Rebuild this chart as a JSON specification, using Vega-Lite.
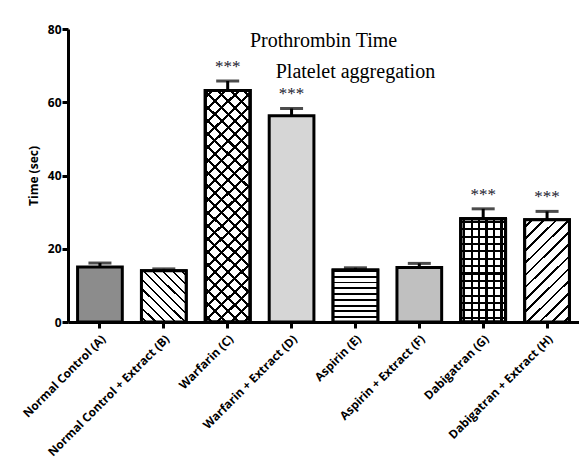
{
  "$schema": "https://vega.github.io/schema/vega-lite/v6.json",
  "width": 511,
  "height": 293,
  "autosize": {"type": "none"},
  "padding": {"left": 68, "top": 29, "right": 0, "bottom": 137},
  "background": "white",
  "config": {"view": {"stroke": null}},
  "data": {
    "values": [
      {"group": "Normal Control (A)", "time": 15.0, "hi": 16.1, "sig": ""},
      {"group": "Normal Control + Extract (B)", "time": 14.0, "hi": 14.5, "sig": ""},
      {"group": "Warfarin (C)", "time": 63.2, "hi": 65.8, "sig": "***"},
      {"group": "Warfarin + Extract (D)", "time": 56.3, "hi": 58.3, "sig": "***"},
      {"group": "Aspirin (E)", "time": 14.2, "hi": 14.8, "sig": ""},
      {"group": "Aspirin + Extract (F)", "time": 14.9, "hi": 16.0, "sig": ""},
      {"group": "Dabigatran (G)", "time": 28.2, "hi": 30.9, "sig": "***"},
      {"group": "Dabigatran + Extract (H)", "time": 27.9, "hi": 30.2, "sig": "***"}
    ]
  },
  "encoding": {
    "x": {
      "field": "group",
      "type": "nominal",
      "sort": null,
      "scale": {"paddingInner": 0.3, "paddingOuter": 0.15},
      "axis": {
        "title": null,
        "labelAngle": -45,
        "labelAlign": "right",
        "labelBaseline": "top",
        "labelFont": "Open Sans",
        "labelFontWeight": "bold",
        "labelFontSize": 11.8,
        "labelColor": "black",
        "labelPadding": 5,
        "domainColor": "black",
        "domainWidth": 3,
        "tickColor": "black",
        "tickWidth": 3,
        "tickSize": 6
      }
    },
    "y": {
      "field": "time",
      "type": "quantitative",
      "scale": {"domain": [0, 80], "nice": false},
      "axis": {
        "title": "Time (sec)",
        "titleFont": "Open Sans",
        "titleFontWeight": "bold",
        "titleFontSize": 12,
        "titleColor": "black",
        "titlePadding": 7,
        "values": [0, 20, 40, 60, 80],
        "grid": false,
        "labelFont": "Open Sans",
        "labelFontWeight": "bold",
        "labelFontSize": 12,
        "labelColor": "black",
        "labelPadding": 1,
        "domainColor": "black",
        "domainWidth": 3,
        "tickColor": "black",
        "tickWidth": 3,
        "tickSize": 6
      }
    }
  },
  "layer": [
    {
      "mark": {"type": "bar", "stroke": "black", "strokeWidth": 3},
      "encoding": {
        "fill": {
          "field": "group",
          "type": "nominal",
          "sort": null,
          "legend": null,
          "scale": {"range": ["#8c8c8c", "#e0e0e0", "#a8a8a8", "#d6d6d6", "#a0a0a0", "#c0c0c0", "#7c7c7c", "#e0e0e0"]}
        }
      }
    },
    {
      "transform": [{"filter": "datum.group === 'Aspirin (E)'"}],
      "mark": {
        "type": "bar",
        "stroke": "black",
        "strokeWidth": 3,
        "fill": {
          "gradient": "linear", "x1": 0, "y1": 0, "x2": 0, "y2": 1,
          "stops": [
            {"offset": 0, "color": "black"}, {"offset": 0.035, "color": "black"}, {"offset": 0.035, "color": "white"}, {"offset": 0.111, "color": "white"},
            {"offset": 0.111, "color": "black"}, {"offset": 0.146, "color": "black"}, {"offset": 0.146, "color": "white"}, {"offset": 0.222, "color": "white"},
            {"offset": 0.222, "color": "black"}, {"offset": 0.257, "color": "black"}, {"offset": 0.257, "color": "white"}, {"offset": 0.333, "color": "white"},
            {"offset": 0.333, "color": "black"}, {"offset": 0.368, "color": "black"}, {"offset": 0.368, "color": "white"}, {"offset": 0.444, "color": "white"},
            {"offset": 0.444, "color": "black"}, {"offset": 0.479, "color": "black"}, {"offset": 0.479, "color": "white"}, {"offset": 0.556, "color": "white"},
            {"offset": 0.556, "color": "black"}, {"offset": 0.591, "color": "black"}, {"offset": 0.591, "color": "white"}, {"offset": 0.667, "color": "white"},
            {"offset": 0.667, "color": "black"}, {"offset": 0.702, "color": "black"}, {"offset": 0.702, "color": "white"}, {"offset": 0.778, "color": "white"},
            {"offset": 0.778, "color": "black"}, {"offset": 0.813, "color": "black"}, {"offset": 0.813, "color": "white"}, {"offset": 0.889, "color": "white"},
            {"offset": 0.889, "color": "black"}, {"offset": 0.924, "color": "black"}, {"offset": 0.924, "color": "white"}, {"offset": 1, "color": "white"}
          ]
        }
      }
    },
    {
      "transform": [{"filter": "datum.group === 'Normal Control + Extract (B)'"}],
      "mark": {
        "type": "bar",
        "stroke": "black",
        "strokeWidth": 3,
        "fill": {
          "gradient": "linear", "x1": 0, "y1": 1, "x2": 0.92, "y2": -0.07,
          "stops": [
            {"offset": 0, "color": "white"}, {"offset": 0.04, "color": "white"}, {"offset": 0.04, "color": "black"}, {"offset": 0.062, "color": "black"}, {"offset": 0.062, "color": "white"},
            {"offset": 0.14, "color": "white"}, {"offset": 0.14, "color": "black"}, {"offset": 0.162, "color": "black"}, {"offset": 0.162, "color": "white"},
            {"offset": 0.24, "color": "white"}, {"offset": 0.24, "color": "black"}, {"offset": 0.262, "color": "black"}, {"offset": 0.262, "color": "white"},
            {"offset": 0.34, "color": "white"}, {"offset": 0.34, "color": "black"}, {"offset": 0.362, "color": "black"}, {"offset": 0.362, "color": "white"},
            {"offset": 0.44, "color": "white"}, {"offset": 0.44, "color": "black"}, {"offset": 0.462, "color": "black"}, {"offset": 0.462, "color": "white"},
            {"offset": 0.54, "color": "white"}, {"offset": 0.54, "color": "black"}, {"offset": 0.562, "color": "black"}, {"offset": 0.562, "color": "white"},
            {"offset": 0.64, "color": "white"}, {"offset": 0.64, "color": "black"}, {"offset": 0.662, "color": "black"}, {"offset": 0.662, "color": "white"},
            {"offset": 0.74, "color": "white"}, {"offset": 0.74, "color": "black"}, {"offset": 0.762, "color": "black"}, {"offset": 0.762, "color": "white"},
            {"offset": 0.84, "color": "white"}, {"offset": 0.84, "color": "black"}, {"offset": 0.862, "color": "black"}, {"offset": 0.862, "color": "white"},
            {"offset": 0.94, "color": "white"}, {"offset": 0.94, "color": "black"}, {"offset": 0.962, "color": "black"}, {"offset": 0.962, "color": "white"},
            {"offset": 1, "color": "white"}
          ]
        }
      }
    },
    {
      "transform": [{"filter": "datum.group === 'Dabigatran + Extract (H)'"}],
      "mark": {
        "type": "bar",
        "stroke": "black",
        "strokeWidth": 3,
        "fill": {
          "gradient": "linear", "x1": 0, "y1": 0, "x2": 0.52, "y2": 1.207,
          "stops": [
            {"offset": 0, "color": "white"}, {"offset": 0.04, "color": "white"}, {"offset": 0.04, "color": "black"}, {"offset": 0.058, "color": "black"}, {"offset": 0.058, "color": "white"},
            {"offset": 0.123, "color": "white"}, {"offset": 0.123, "color": "black"}, {"offset": 0.141, "color": "black"}, {"offset": 0.141, "color": "white"},
            {"offset": 0.206, "color": "white"}, {"offset": 0.206, "color": "black"}, {"offset": 0.224, "color": "black"}, {"offset": 0.224, "color": "white"},
            {"offset": 0.29, "color": "white"}, {"offset": 0.29, "color": "black"}, {"offset": 0.308, "color": "black"}, {"offset": 0.308, "color": "white"},
            {"offset": 0.373, "color": "white"}, {"offset": 0.373, "color": "black"}, {"offset": 0.391, "color": "black"}, {"offset": 0.391, "color": "white"},
            {"offset": 0.456, "color": "white"}, {"offset": 0.456, "color": "black"}, {"offset": 0.474, "color": "black"}, {"offset": 0.474, "color": "white"},
            {"offset": 0.54, "color": "white"}, {"offset": 0.54, "color": "black"}, {"offset": 0.558, "color": "black"}, {"offset": 0.558, "color": "white"},
            {"offset": 0.623, "color": "white"}, {"offset": 0.623, "color": "black"}, {"offset": 0.641, "color": "black"}, {"offset": 0.641, "color": "white"},
            {"offset": 0.706, "color": "white"}, {"offset": 0.706, "color": "black"}, {"offset": 0.724, "color": "black"}, {"offset": 0.724, "color": "white"},
            {"offset": 0.79, "color": "white"}, {"offset": 0.79, "color": "black"}, {"offset": 0.808, "color": "black"}, {"offset": 0.808, "color": "white"},
            {"offset": 0.873, "color": "white"}, {"offset": 0.873, "color": "black"}, {"offset": 0.891, "color": "black"}, {"offset": 0.891, "color": "white"},
            {"offset": 0.956, "color": "white"}, {"offset": 0.956, "color": "black"}, {"offset": 0.974, "color": "black"}, {"offset": 0.974, "color": "white"},
            {"offset": 1, "color": "white"}
          ]
        }
      }
    },
    {
      "transform": [{"filter": "datum.group === 'Warfarin (C)'"}],
      "mark": {
        "type": "bar",
        "stroke": "black",
        "strokeWidth": 3,
        "fill": {
          "gradient": "linear", "x1": 0, "y1": 1, "x2": 0.219, "y2": -0.149,
          "stops": [
            {"offset": 0, "color": "white"},
            {"offset": 0.020, "color": "white"}, {"offset": 0.020, "color": "black"}, {"offset": 0.031, "color": "black"}, {"offset": 0.031, "color": "white"},
            {"offset": 0.068, "color": "white"}, {"offset": 0.068, "color": "black"}, {"offset": 0.079, "color": "black"}, {"offset": 0.079, "color": "white"},
            {"offset": 0.115, "color": "white"}, {"offset": 0.115, "color": "black"}, {"offset": 0.126, "color": "black"}, {"offset": 0.126, "color": "white"},
            {"offset": 0.163, "color": "white"}, {"offset": 0.163, "color": "black"}, {"offset": 0.174, "color": "black"}, {"offset": 0.174, "color": "white"},
            {"offset": 0.210, "color": "white"}, {"offset": 0.210, "color": "black"}, {"offset": 0.221, "color": "black"}, {"offset": 0.221, "color": "white"},
            {"offset": 0.258, "color": "white"}, {"offset": 0.258, "color": "black"}, {"offset": 0.269, "color": "black"}, {"offset": 0.269, "color": "white"},
            {"offset": 0.306, "color": "white"}, {"offset": 0.306, "color": "black"}, {"offset": 0.317, "color": "black"}, {"offset": 0.317, "color": "white"},
            {"offset": 0.353, "color": "white"}, {"offset": 0.353, "color": "black"}, {"offset": 0.364, "color": "black"}, {"offset": 0.364, "color": "white"},
            {"offset": 0.401, "color": "white"}, {"offset": 0.401, "color": "black"}, {"offset": 0.412, "color": "black"}, {"offset": 0.412, "color": "white"},
            {"offset": 0.449, "color": "white"}, {"offset": 0.449, "color": "black"}, {"offset": 0.460, "color": "black"}, {"offset": 0.460, "color": "white"},
            {"offset": 0.496, "color": "white"}, {"offset": 0.496, "color": "black"}, {"offset": 0.507, "color": "black"}, {"offset": 0.507, "color": "white"},
            {"offset": 0.544, "color": "white"}, {"offset": 0.544, "color": "black"}, {"offset": 0.555, "color": "black"}, {"offset": 0.555, "color": "white"},
            {"offset": 0.591, "color": "white"}, {"offset": 0.591, "color": "black"}, {"offset": 0.602, "color": "black"}, {"offset": 0.602, "color": "white"},
            {"offset": 0.639, "color": "white"}, {"offset": 0.639, "color": "black"}, {"offset": 0.650, "color": "black"}, {"offset": 0.650, "color": "white"},
            {"offset": 0.687, "color": "white"}, {"offset": 0.687, "color": "black"}, {"offset": 0.698, "color": "black"}, {"offset": 0.698, "color": "white"},
            {"offset": 0.734, "color": "white"}, {"offset": 0.734, "color": "black"}, {"offset": 0.745, "color": "black"}, {"offset": 0.745, "color": "white"},
            {"offset": 0.782, "color": "white"}, {"offset": 0.782, "color": "black"}, {"offset": 0.793, "color": "black"}, {"offset": 0.793, "color": "white"},
            {"offset": 0.830, "color": "white"}, {"offset": 0.830, "color": "black"}, {"offset": 0.841, "color": "black"}, {"offset": 0.841, "color": "white"},
            {"offset": 0.877, "color": "white"}, {"offset": 0.877, "color": "black"}, {"offset": 0.888, "color": "black"}, {"offset": 0.888, "color": "white"},
            {"offset": 0.925, "color": "white"}, {"offset": 0.925, "color": "black"}, {"offset": 0.936, "color": "black"}, {"offset": 0.936, "color": "white"},
            {"offset": 0.972, "color": "white"}, {"offset": 0.972, "color": "black"}, {"offset": 0.983, "color": "black"}, {"offset": 0.983, "color": "white"},
            {"offset": 1, "color": "white"}
          ]
        }
      }
    },
    {
      "transform": [{"filter": "datum.group === 'Warfarin (C)'"}],
      "mark": {
        "type": "bar",
        "stroke": "black",
        "strokeWidth": 3,
        "fill": {
          "gradient": "linear", "x1": 0, "y1": 0, "x2": 0.218, "y2": 1.149,
          "stops": [
            {"offset": 0, "color": "rgba(0,0,0,0)"},
            {"offset": 0.020, "color": "rgba(0,0,0,0)"}, {"offset": 0.020, "color": "black"}, {"offset": 0.031, "color": "black"}, {"offset": 0.031, "color": "rgba(0,0,0,0)"},
            {"offset": 0.068, "color": "rgba(0,0,0,0)"}, {"offset": 0.068, "color": "black"}, {"offset": 0.079, "color": "black"}, {"offset": 0.079, "color": "rgba(0,0,0,0)"},
            {"offset": 0.115, "color": "rgba(0,0,0,0)"}, {"offset": 0.115, "color": "black"}, {"offset": 0.126, "color": "black"}, {"offset": 0.126, "color": "rgba(0,0,0,0)"},
            {"offset": 0.163, "color": "rgba(0,0,0,0)"}, {"offset": 0.163, "color": "black"}, {"offset": 0.174, "color": "black"}, {"offset": 0.174, "color": "rgba(0,0,0,0)"},
            {"offset": 0.210, "color": "rgba(0,0,0,0)"}, {"offset": 0.210, "color": "black"}, {"offset": 0.221, "color": "black"}, {"offset": 0.221, "color": "rgba(0,0,0,0)"},
            {"offset": 0.258, "color": "rgba(0,0,0,0)"}, {"offset": 0.258, "color": "black"}, {"offset": 0.269, "color": "black"}, {"offset": 0.269, "color": "rgba(0,0,0,0)"},
            {"offset": 0.306, "color": "rgba(0,0,0,0)"}, {"offset": 0.306, "color": "black"}, {"offset": 0.317, "color": "black"}, {"offset": 0.317, "color": "rgba(0,0,0,0)"},
            {"offset": 0.353, "color": "rgba(0,0,0,0)"}, {"offset": 0.353, "color": "black"}, {"offset": 0.364, "color": "black"}, {"offset": 0.364, "color": "rgba(0,0,0,0)"},
            {"offset": 0.401, "color": "rgba(0,0,0,0)"}, {"offset": 0.401, "color": "black"}, {"offset": 0.412, "color": "black"}, {"offset": 0.412, "color": "rgba(0,0,0,0)"},
            {"offset": 0.449, "color": "rgba(0,0,0,0)"}, {"offset": 0.449, "color": "black"}, {"offset": 0.460, "color": "black"}, {"offset": 0.460, "color": "rgba(0,0,0,0)"},
            {"offset": 0.496, "color": "rgba(0,0,0,0)"}, {"offset": 0.496, "color": "black"}, {"offset": 0.507, "color": "black"}, {"offset": 0.507, "color": "rgba(0,0,0,0)"},
            {"offset": 0.544, "color": "rgba(0,0,0,0)"}, {"offset": 0.544, "color": "black"}, {"offset": 0.555, "color": "black"}, {"offset": 0.555, "color": "rgba(0,0,0,0)"},
            {"offset": 0.591, "color": "rgba(0,0,0,0)"}, {"offset": 0.591, "color": "black"}, {"offset": 0.602, "color": "black"}, {"offset": 0.602, "color": "rgba(0,0,0,0)"},
            {"offset": 0.639, "color": "rgba(0,0,0,0)"}, {"offset": 0.639, "color": "black"}, {"offset": 0.650, "color": "black"}, {"offset": 0.650, "color": "rgba(0,0,0,0)"},
            {"offset": 0.687, "color": "rgba(0,0,0,0)"}, {"offset": 0.687, "color": "black"}, {"offset": 0.698, "color": "black"}, {"offset": 0.698, "color": "rgba(0,0,0,0)"},
            {"offset": 0.734, "color": "rgba(0,0,0,0)"}, {"offset": 0.734, "color": "black"}, {"offset": 0.745, "color": "black"}, {"offset": 0.745, "color": "rgba(0,0,0,0)"},
            {"offset": 0.782, "color": "rgba(0,0,0,0)"}, {"offset": 0.782, "color": "black"}, {"offset": 0.793, "color": "black"}, {"offset": 0.793, "color": "rgba(0,0,0,0)"},
            {"offset": 0.830, "color": "rgba(0,0,0,0)"}, {"offset": 0.830, "color": "black"}, {"offset": 0.841, "color": "black"}, {"offset": 0.841, "color": "rgba(0,0,0,0)"},
            {"offset": 0.877, "color": "rgba(0,0,0,0)"}, {"offset": 0.877, "color": "black"}, {"offset": 0.888, "color": "black"}, {"offset": 0.888, "color": "rgba(0,0,0,0)"},
            {"offset": 0.925, "color": "rgba(0,0,0,0)"}, {"offset": 0.925, "color": "black"}, {"offset": 0.936, "color": "black"}, {"offset": 0.936, "color": "rgba(0,0,0,0)"},
            {"offset": 0.972, "color": "rgba(0,0,0,0)"}, {"offset": 0.972, "color": "black"}, {"offset": 0.983, "color": "black"}, {"offset": 0.983, "color": "rgba(0,0,0,0)"},
            {"offset": 1, "color": "rgba(0,0,0,0)"}
          ]
        }
      }
    },
    {
      "transform": [{"filter": "datum.group === 'Dabigatran (G)'"}],
      "mark": {
        "type": "bar",
        "stroke": "black",
        "strokeWidth": 3,
        "fill": {
          "gradient": "linear", "x1": 0, "y1": 0, "x2": 1, "y2": 0,
          "stops": [
            {"offset": 0, "color": "white"},
            {"offset": 0.05, "color": "white"}, {"offset": 0.05, "color": "black"}, {"offset": 0.10, "color": "black"}, {"offset": 0.10, "color": "white"},
            {"offset": 0.217, "color": "white"}, {"offset": 0.217, "color": "black"}, {"offset": 0.267, "color": "black"}, {"offset": 0.267, "color": "white"},
            {"offset": 0.383, "color": "white"}, {"offset": 0.383, "color": "black"}, {"offset": 0.433, "color": "black"}, {"offset": 0.433, "color": "white"},
            {"offset": 0.55, "color": "white"}, {"offset": 0.55, "color": "black"}, {"offset": 0.60, "color": "black"}, {"offset": 0.60, "color": "white"},
            {"offset": 0.717, "color": "white"}, {"offset": 0.717, "color": "black"}, {"offset": 0.767, "color": "black"}, {"offset": 0.767, "color": "white"},
            {"offset": 0.883, "color": "white"}, {"offset": 0.883, "color": "black"}, {"offset": 0.933, "color": "black"}, {"offset": 0.933, "color": "white"},
            {"offset": 1, "color": "white"}
          ]
        }
      }
    },
    {
      "transform": [{"filter": "datum.group === 'Dabigatran (G)'"}],
      "mark": {
        "type": "bar",
        "stroke": "black",
        "strokeWidth": 3,
        "fill": {
          "gradient": "linear", "x1": 0, "y1": 0, "x2": 0, "y2": 1,
          "stops": [
            {"offset": 0, "color": "rgba(0,0,0,0)"},
            {"offset": 0.020, "color": "rgba(0,0,0,0)"}, {"offset": 0.020, "color": "black"}, {"offset": 0.041, "color": "black"}, {"offset": 0.041, "color": "rgba(0,0,0,0)"},
            {"offset": 0.091, "color": "rgba(0,0,0,0)"}, {"offset": 0.091, "color": "black"}, {"offset": 0.113, "color": "black"}, {"offset": 0.113, "color": "rgba(0,0,0,0)"},
            {"offset": 0.163, "color": "rgba(0,0,0,0)"}, {"offset": 0.163, "color": "black"}, {"offset": 0.184, "color": "black"}, {"offset": 0.184, "color": "rgba(0,0,0,0)"},
            {"offset": 0.234, "color": "rgba(0,0,0,0)"}, {"offset": 0.234, "color": "black"}, {"offset": 0.255, "color": "black"}, {"offset": 0.255, "color": "rgba(0,0,0,0)"},
            {"offset": 0.306, "color": "rgba(0,0,0,0)"}, {"offset": 0.306, "color": "black"}, {"offset": 0.327, "color": "black"}, {"offset": 0.327, "color": "rgba(0,0,0,0)"},
            {"offset": 0.377, "color": "rgba(0,0,0,0)"}, {"offset": 0.377, "color": "black"}, {"offset": 0.398, "color": "black"}, {"offset": 0.398, "color": "rgba(0,0,0,0)"},
            {"offset": 0.448, "color": "rgba(0,0,0,0)"}, {"offset": 0.448, "color": "black"}, {"offset": 0.470, "color": "black"}, {"offset": 0.470, "color": "rgba(0,0,0,0)"},
            {"offset": 0.520, "color": "rgba(0,0,0,0)"}, {"offset": 0.520, "color": "black"}, {"offset": 0.541, "color": "black"}, {"offset": 0.541, "color": "rgba(0,0,0,0)"},
            {"offset": 0.591, "color": "rgba(0,0,0,0)"}, {"offset": 0.591, "color": "black"}, {"offset": 0.613, "color": "black"}, {"offset": 0.613, "color": "rgba(0,0,0,0)"},
            {"offset": 0.663, "color": "rgba(0,0,0,0)"}, {"offset": 0.663, "color": "black"}, {"offset": 0.684, "color": "black"}, {"offset": 0.684, "color": "rgba(0,0,0,0)"},
            {"offset": 0.734, "color": "rgba(0,0,0,0)"}, {"offset": 0.734, "color": "black"}, {"offset": 0.755, "color": "black"}, {"offset": 0.755, "color": "rgba(0,0,0,0)"},
            {"offset": 0.805, "color": "rgba(0,0,0,0)"}, {"offset": 0.805, "color": "black"}, {"offset": 0.827, "color": "black"}, {"offset": 0.827, "color": "rgba(0,0,0,0)"},
            {"offset": 0.877, "color": "rgba(0,0,0,0)"}, {"offset": 0.877, "color": "black"}, {"offset": 0.898, "color": "black"}, {"offset": 0.898, "color": "rgba(0,0,0,0)"},
            {"offset": 0.948, "color": "rgba(0,0,0,0)"}, {"offset": 0.948, "color": "black"}, {"offset": 0.969, "color": "black"}, {"offset": 0.969, "color": "rgba(0,0,0,0)"},
            {"offset": 1, "color": "rgba(0,0,0,0)"}
          ]
        }
      }
    },
    {
      "mark": {"type": "rule", "color": "black", "strokeWidth": 3},
      "encoding": {
        "y2": {"field": "hi"}
      }
    },
    {
      "mark": {"type": "tick", "color": "black", "thickness": 3, "size": 23},
      "encoding": {
        "y": {"field": "hi", "type": "quantitative"}
      }
    },
    {
      "mark": {"type": "text", "font": "Liberation Serif", "fontSize": 17, "baseline": "alphabetic", "dy": -9, "color": "#1a1a2e"},
      "encoding": {
        "y": {"field": "hi", "type": "quantitative"},
        "text": {"field": "sig"}
      }
    },
    {
      "data": {"values": [{"group": "Warfarin + Extract (D)", "label": "Prothrombin Time", "yv": 76.7}]},
      "mark": {"type": "text", "font": "Liberation Serif", "fontSize": 20, "color": "black", "baseline": "middle", "dx": 32},
      "encoding": {
        "y": {"field": "yv", "type": "quantitative"},
        "text": {"field": "label"}
      }
    },
    {
      "data": {"values": [{"group": "Aspirin (E)", "label": "Platelet aggregation", "yv": 68.2}]},
      "mark": {"type": "text", "font": "Liberation Serif", "fontSize": 20, "color": "black", "baseline": "middle"},
      "encoding": {
        "y": {"field": "yv", "type": "quantitative"},
        "text": {"field": "label"}
      }
    }
  ]
}
